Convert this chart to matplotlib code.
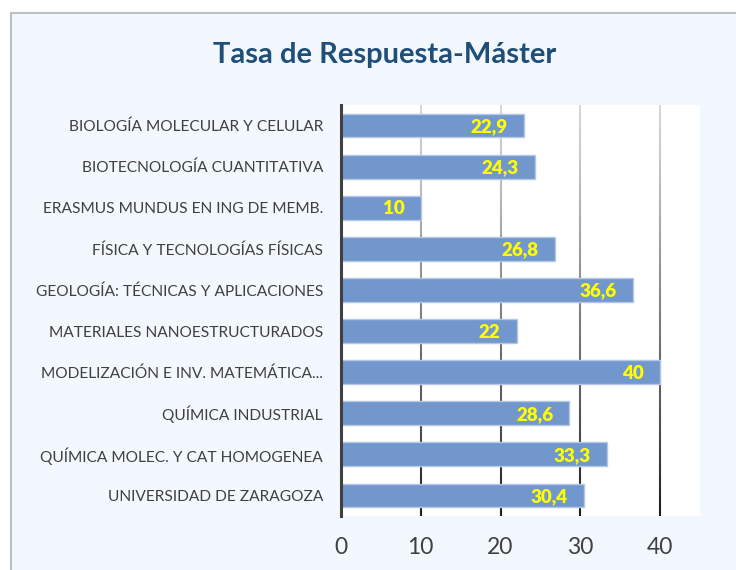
import matplotlib
matplotlib.use("Agg")
import matplotlib.pyplot as plt
from matplotlib.patches import Rectangle
from matplotlib.collections import LineCollection
import numpy as np

# datos del gráfico
masters = [
    "BIOLOGÍA MOLECULAR Y CELULAR",
    "BIOTECNOLOGÍA CUANTITATIVA",
    "ERASMUS MUNDUS EN ING DE MEMB.",
    "FÍSICA Y TECNOLOGÍAS FÍSICAS",
    "GEOLOGÍA: TÉCNICAS Y APLICACIONES",
    "MATERIALES NANOESTRUCTURADOS",
    "MODELIZACIÓN E INV. MATEMÁTICA...",
    "QUÍMICA INDUSTRIAL",
    "QUÍMICA MOLEC. Y CAT HOMOGENEA",
    "UNIVERSIDAD DE ZARAGOZA",
]
tasa = [22.9, 24.3, 10, 26.8, 36.6, 22, 40, 28.6, 33.3, 30.4]
etiquetas = ["22,9", "24,3", "10", "26,8", "36,6", "22", "40", "28,6", "33,3", "30,4"]
ticks_x = [0, 10, 20, 30, 40]

plt.rcParams['font.family'] = ['Lato', 'DejaVu Sans']

W, H = 736, 570
fig = plt.figure(figsize=(W / 100, H / 100), dpi=100)
fig.patch.set_facecolor('white')

# marco del gráfico (recortado a la derecha y abajo)
marco = Rectangle((10.5 / W, -0.05), 1.0, 1.05 - 12.5 / H,
                  transform=fig.transFigure, facecolor='#F3F8FE',
                  edgecolor='#BFBFBF', linewidth=1.5, zorder=-10)
fig.add_artist(marco)

ax = fig.add_axes([341 / W, 1 - 516 / H, (700 - 341) / W, (516 - 105) / H])
ax.set_facecolor('white')

y = np.arange(len(masters))
ax.barh(y, tasa, height=0.58, color='#7297CC', edgecolor='#B4C7E7',
        linewidth=1, zorder=3)

for yi, v, txt in zip(y, tasa, etiquetas):
    ax.annotate(txt, (v, yi), xytext=(-16, -1), textcoords='offset pixels',
                ha='right', va='center', color='#FFFF00', fontsize=13.5,
                fontweight='heavy', zorder=4)

ax.set_xlim(0, 45)
ax.set_ylim(len(masters) - 0.5, -0.5)

# rejilla vertical con degradado (más oscura abajo)
n = 60
ys = np.linspace(0, 1, n + 1)
cols = [plt.cm.Greys(0.25 + 0.65 * (1 - (a + b) / 2)) for a, b in zip(ys[:-1], ys[1:])]
for xv in ticks_x[1:]:
    segs = [[(xv, a), (xv, b)] for a, b in zip(ys[:-1], ys[1:])]
    lc = LineCollection(segs, colors=cols, linewidths=1.5,
                        transform=ax.get_xaxis_transform(), zorder=1)
    ax.add_collection(lc)

for s in ['top', 'right', 'bottom']:
    ax.spines[s].set_visible(False)
ax.spines['left'].set_linewidth(2.2)
ax.spines['left'].set_color('#404040')
ax.spines['left'].set_zorder(5)

ax.set_yticks(y)
ax.set_yticklabels(masters, fontsize=11.2, color='#404040')
ax.set_xticks(ticks_x)
ax.set_xticklabels([str(t) for t in ticks_x], fontsize=16.5, color='#404040')
ax.tick_params(axis='y', length=0, pad=13)
ax.tick_params(axis='x', length=0, pad=15)

fig.text(385 / W, 1 - 55 / H, "Tasa de Respuesta-Máster", ha='center',
         va='center', fontsize=21, fontweight='bold', color='#1F4E79')

fig.savefig('out.png', dpi=100, facecolor=fig.get_facecolor())
